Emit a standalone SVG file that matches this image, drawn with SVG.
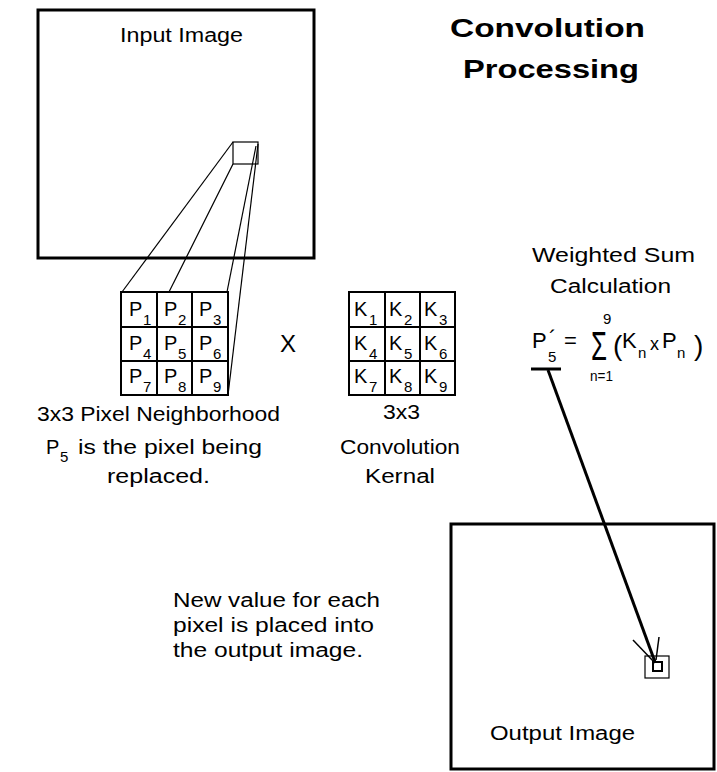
<svg xmlns="http://www.w3.org/2000/svg" width="717" height="772" viewBox="0 0 717 772">
<style>
text{font-family:"Liberation Sans",Arial,sans-serif;fill:#000}
.b{font-size:20px}
.c{font-size:20px}
.s{font-size:15px}
.f{font-size:22px}
.t{font-size:26px;font-weight:bold}
.box{fill:none;stroke:#000;stroke-width:3}
.grid{fill:none;stroke:#000;stroke-width:2}
.thin{fill:none;stroke:#000;stroke-width:1.2}
</style>
<rect width="717" height="772" fill="#fff"/>
<g id="title">
<text class="t" x="450" y="37" textLength="195" lengthAdjust="spacingAndGlyphs">Convolution</text>
<text class="t" x="463" y="78" textLength="176" lengthAdjust="spacingAndGlyphs">Processing</text>
</g>
<g id="input-image">
<rect class="box" x="38" y="10" width="276" height="248"/>
<text class="b" x="120" y="42" textLength="123" lengthAdjust="spacingAndGlyphs">Input Image</text>
<rect class="thin" x="233" y="142" width="25" height="22"/>
</g>
<g id="connectors">
<line class="thin" x1="233" y1="142" x2="122" y2="292"/>
<line class="thin" x1="233" y1="164" x2="169" y2="292"/>
<line class="thin" x1="256" y1="146" x2="227" y2="292"/>
<line class="thin" x1="258" y1="144" x2="228" y2="395"/>
<line x1="531" y1="369" x2="561" y2="369" stroke="#000" stroke-width="3"/>
<line x1="548" y1="370" x2="655" y2="662" stroke="#000" stroke-width="3"/>
<line x1="633" y1="640" x2="655" y2="663" stroke="#000" stroke-width="1.5"/>
<line x1="659" y1="637" x2="656" y2="660" stroke="#000" stroke-width="1.5"/>
</g>
<g id="pixel-neighborhood">
<rect class="grid" x="121" y="292" width="107" height="103"/>
<line class="grid" x1="157" y1="292" x2="157" y2="395"/>
<line class="grid" x1="192" y1="292" x2="192" y2="395"/>
<line class="grid" x1="121" y1="327" x2="228" y2="327"/>
<line class="grid" x1="121" y1="361" x2="228" y2="361"/>
<text class="c" x="129" y="316">P</text><text class="s" x="143" y="325">1</text>
<text class="c" x="164" y="316">P</text><text class="s" x="178" y="325">2</text>
<text class="c" x="199" y="316">P</text><text class="s" x="213" y="325">3</text>
<text class="c" x="129" y="350">P</text><text class="s" x="143" y="359">4</text>
<text class="c" x="164" y="350">P</text><text class="s" x="178" y="359">5</text>
<text class="c" x="199" y="350">P</text><text class="s" x="213" y="359">6</text>
<text class="c" x="129" y="383">P</text><text class="s" x="143" y="392">7</text>
<text class="c" x="164" y="383">P</text><text class="s" x="178" y="392">8</text>
<text class="c" x="199" y="383">P</text><text class="s" x="213" y="392">9</text>
<text class="b" x="37" y="421" textLength="243" lengthAdjust="spacingAndGlyphs">3x3 Pixel Neighborhood</text>
<text class="b" x="46" y="454">P</text><text class="s" x="60" y="462">5</text>
<text class="b" x="78" y="454" textLength="184" lengthAdjust="spacingAndGlyphs">is the pixel being</text>
<text class="b" x="107" y="483" textLength="103" lengthAdjust="spacingAndGlyphs">replaced.</text>
</g>
<g id="times">
<text x="280" y="352" style="font-size:24px">X</text>
</g>
<g id="kernel">
<rect class="grid" x="349" y="292" width="106" height="103"/>
<line class="grid" x1="385" y1="292" x2="385" y2="395"/>
<line class="grid" x1="420" y1="292" x2="420" y2="395"/>
<line class="grid" x1="349" y1="327" x2="455" y2="327"/>
<line class="grid" x1="349" y1="361" x2="455" y2="361"/>
<text class="c" x="354" y="316">K</text><text class="s" x="369" y="325">1</text>
<text class="c" x="389" y="316">K</text><text class="s" x="404" y="325">2</text>
<text class="c" x="424" y="316">K</text><text class="s" x="439" y="325">3</text>
<text class="c" x="354" y="350">K</text><text class="s" x="369" y="359">4</text>
<text class="c" x="389" y="350">K</text><text class="s" x="404" y="359">5</text>
<text class="c" x="424" y="350">K</text><text class="s" x="439" y="359">6</text>
<text class="c" x="354" y="383">K</text><text class="s" x="369" y="392">7</text>
<text class="c" x="389" y="383">K</text><text class="s" x="404" y="392">8</text>
<text class="c" x="424" y="383">K</text><text class="s" x="439" y="392">9</text>
<text class="b" x="383" y="419" textLength="37" lengthAdjust="spacingAndGlyphs">3x3</text>
<text class="b" x="340" y="454" textLength="120" lengthAdjust="spacingAndGlyphs">Convolution</text>
<text class="b" x="365" y="483" textLength="70" lengthAdjust="spacingAndGlyphs">Kernal</text>
</g>
<g id="weighted-sum">
<text class="b" x="532" y="262" textLength="163" lengthAdjust="spacingAndGlyphs">Weighted Sum</text>
<text class="b" x="550" y="293" textLength="121" lengthAdjust="spacingAndGlyphs">Calculation</text>
<text class="f" x="532" y="348">P<tspan x="549" y="346">´</tspan><tspan class="s" x="548" y="362">5</tspan><tspan x="564" y="348">=</tspan></text>
<text x="603" y="324" style="font-size:15px">9</text>
<text x="591" y="360" style="font-size:40px" textLength="16" lengthAdjust="spacingAndGlyphs">Σ</text>
<text class="s" x="590" y="381" textLength="23" lengthAdjust="spacingAndGlyphs">n=1</text>
<text x="613" y="355" style="font-size:28px">(<tspan class="f" x="622" y="348">K</tspan><tspan class="s" x="638" y="358">n</tspan><tspan style="font-size:18px" x="650" y="350">x</tspan><tspan class="f" x="662" y="348">P</tspan><tspan class="s" x="677" y="358">n</tspan><tspan x="694" y="355">)</tspan></text>
</g>
<g id="note">
<text class="b" x="173" y="607" textLength="207" lengthAdjust="spacingAndGlyphs">New value for each</text>
<text class="b" x="173" y="632" textLength="201" lengthAdjust="spacingAndGlyphs">pixel is placed into</text>
<text class="b" x="173" y="657" textLength="190" lengthAdjust="spacingAndGlyphs">the output image.</text>
</g>
<g id="output-image">
<rect class="box" x="451" y="524" width="263" height="245"/>
<rect class="thin" x="645" y="656" width="24" height="22"/>
<rect x="653" y="662" width="9" height="9" fill="none" stroke="#000" stroke-width="2"/>
<text class="b" x="490" y="740" textLength="145" lengthAdjust="spacingAndGlyphs">Output Image</text>
</g>
</svg>
